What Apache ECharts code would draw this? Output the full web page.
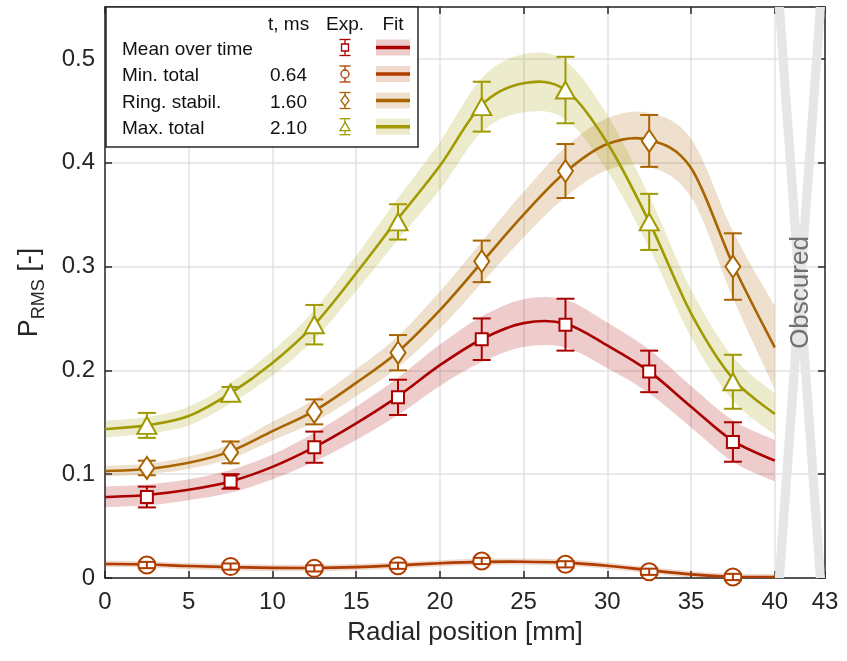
<!DOCTYPE html>
<html><head><meta charset="utf-8">
<script src="https://cdn.jsdelivr.net/npm/echarts@6/dist/echarts.min.js"></script>
<style>html,body{margin:0;padding:0;background:#fff}#c{width:847px;height:661px}</style>
</head><body><div id="c"></div>
<script>
// ---------------- data ----------------
const expX = [2.5, 7.5, 12.5, 17.5, 22.5, 27.5, 32.5, 37.5];
const meanY = [0.078, 0.093, 0.126, 0.174, 0.230, 0.244, 0.199, 0.131];
const meanErr = [0.010, 0.007, 0.015, 0.017, 0.020, 0.025, 0.020, 0.019];
const minY = [0.0125, 0.011, 0.0093, 0.0118, 0.0164, 0.0132, 0.006, 0.001];
const minErr = [0.003, 0.003, 0.003, 0.003, 0.003, 0.003, 0.003, 0.003];
const ringY = [0.106, 0.121, 0.160, 0.217, 0.305, 0.392, 0.421, 0.300];
const ringErr = [0.007, 0.0105, 0.012, 0.017, 0.020, 0.026, 0.025, 0.032];
const maxY = [0.147, 0.178, 0.244, 0.343, 0.454, 0.470, 0.343, 0.189];
const maxErr = [0.012, 0.006, 0.019, 0.017, 0.024, 0.032, 0.027, 0.026];

const fitX = [0, 2.5, 5, 7.5, 10, 12.5, 15, 17.5, 20, 22.5, 25, 27.5, 30, 32.5, 35, 37.5, 40];
const meanFit = [0.078, 0.080, 0.085, 0.093, 0.107, 0.126, 0.149, 0.175, 0.205, 0.230, 0.2455, 0.245, 0.224, 0.199, 0.165, 0.132, 0.113];
const minFit = [0.0135, 0.013, 0.0115, 0.0105, 0.0098, 0.0097, 0.0105, 0.0122, 0.0142, 0.0155, 0.0157, 0.0148, 0.0118, 0.0075, 0.0035, 0.0012, 0.0008];
const ringFit = [0.103, 0.105, 0.111, 0.122, 0.1415, 0.161, 0.188, 0.218, 0.258, 0.304, 0.350, 0.391, 0.418, 0.422, 0.395, 0.302, 0.222];
const maxFit = [0.1435, 0.147, 0.156, 0.178, 0.207, 0.244, 0.2935, 0.346, 0.397, 0.4557, 0.4766, 0.470, 0.419, 0.343, 0.255, 0.192, 0.158];

const meanBand = [0.010, 0.010, 0.010, 0.011, 0.012, 0.014, 0.016, 0.018, 0.020, 0.022, 0.023, 0.023, 0.022, 0.021, 0.020, 0.020, 0.020];
const minBand = [0.003, 0.003, 0.003, 0.003, 0.003, 0.003, 0.003, 0.003, 0.003, 0.003, 0.003, 0.003, 0.003, 0.003, 0.003, 0.003, 0.003];
const ringBand = [0.005, 0.005, 0.006, 0.007, 0.009, 0.011, 0.013, 0.015, 0.018, 0.020, 0.022, 0.024, 0.025, 0.026, 0.028, 0.032, 0.040];
const maxBand = [0.008, 0.008, 0.009, 0.010, 0.012, 0.014, 0.017, 0.020, 0.023, 0.026, 0.028, 0.028, 0.027, 0.025, 0.023, 0.021, 0.020];

const seriesNames = ['Mean over time', 'Min. total', 'Ring. stabil.', 'Max. total'];
const seriesTimes = ['', '0.64', '1.60', '2.10'];
const legendHeader = ['t, ms', 'Exp.', 'Fit'];
const obscuredRange = [40, 43];
const obscuredLabel = 'Obscured';
const xName = 'Radial position [mm]';
const yMin = 0, yMax = 0.55, yStep = 0.1;
const xMin = 0, xMax = 43, xStep = 5;

// ---------------- style ----------------
const colors = ['#aa0000', '#b03c00', '#a86400', '#a09a00'];
const bandColors = ['rgba(170,0,0,0.2)', 'rgba(176,60,0,0.2)', 'rgba(168,100,0,0.2)', 'rgba(160,154,0,0.2)'];
const symbols = ['rect', 'circle', 'diamond', 'triangle'];
const symbolSizes = [12, 17, [15, 22], [19, 17]];
const FONT = "'Liberation Sans', Arial, sans-serif";
const AX = '#262626';

const groups = [
  {y: meanY, err: meanErr, fit: meanFit, band: meanBand},
  {y: minY, err: minErr, fit: minFit, band: minBand},
  {y: ringY, err: ringErr, fit: ringFit, band: ringBand},
  {y: maxY, err: maxErr, fit: maxFit, band: maxBand}
];

function spline(pts) {
  let d = 'M' + pts[0][0] + ',' + pts[0][1];
  for (let i = 0; i < pts.length - 1; i++) {
    const p0 = pts[i - 1] || pts[i], p1 = pts[i], p2 = pts[i + 1], p3 = pts[i + 2] || pts[i + 1];
    const c1 = [p1[0] + (p2[0] - p0[0]) / 6, p1[1] + (p2[1] - p0[1]) / 6];
    const c2 = [p2[0] - (p3[0] - p1[0]) / 6, p2[1] - (p3[1] - p1[1]) / 6];
    d += ' C' + c1[0] + ',' + c1[1] + ' ' + c2[0] + ',' + c2[1] + ' ' + p2[0] + ',' + p2[1];
  }
  return d;
}

const series = [];

// obscured region
series.push({
  type: 'custom', silent: true, z: 1, clip: true,
  data: [obscuredRange],
  encode: {x: [0, 1]},
  renderItem: (params, api) => {
    const a = api.value(0), b = api.value(1);
    const w = 0.55;
    const P = (x, y) => api.coord([x, y]);
    const c = P((a + b) / 2, (yMin + yMax) / 2);
    return {type: 'group', children: [
      {type: 'polygon', shape: {points: [P(a, yMax), P(a + w, yMax), P(b, yMin), P(b - w, yMin)]}, style: {fill: '#e6e6e6'}},
      {type: 'polygon', shape: {points: [P(b - w, yMax), P(b, yMax), P(a + w, yMin), P(a, yMin)]}, style: {fill: '#e6e6e6'}},
      {type: 'text', x: c[0] + 1, y: c[1], rotation: Math.PI / 2,
        style: {text: obscuredLabel, font: '26px ' + FONT, fill: '#707070', align: 'center', verticalAlign: 'middle'}}
    ]};
  }
});

groups.forEach((g, i) => {
  // confidence band
  series.push({
    type: 'custom', silent: true, z: 2, clip: true,
    data: fitX.map((x, k) => [x, g.fit[k]]),
    encode: {x: 0, y: 1},
    renderItem: (params, api) => {
      if (params.dataIndex !== 0) return null;
      const up = fitX.map((x, k) => api.coord([x, g.fit[k] + g.band[k]]));
      const lo = fitX.map((x, k) => api.coord([x, g.fit[k] - g.band[k]])).reverse();
      const d = spline(up) + ' L' + spline(lo).slice(1) + ' Z';
      return {type: 'path', shape: {pathData: d}, style: {fill: bandColors[i]}};
    }
  });
});
groups.forEach((g, i) => {
  // fit line
  series.push({
    type: 'custom', silent: true, z: 3, clip: true,
    data: fitX.map((x, k) => [x, g.fit[k]]),
    encode: {x: 0, y: 1},
    renderItem: (params, api) => {
      if (params.dataIndex !== 0) return null;
      const pts = fitX.map((x, k) => api.coord([x, g.fit[k]]));
      return {type: 'path', shape: {pathData: spline(pts)}, style: {fill: 'none', stroke: colors[i], lineWidth: 2.6}};
    }
  });
});
groups.forEach((g, i) => {
  // error bars
  series.push({
    type: 'custom', silent: true, z: i === 1 ? 6 : 4,
    data: expX.map((x, k) => [x, g.y[k], g.err[k]]),
    encode: {x: 0, y: 1},
    renderItem: (params, api) => {
      const x = api.value(0), y = api.value(1), e = api.value(2);
      const t = api.coord([x, y + e]), b = api.coord([x, y - e]);
      const hw = 9;
      const st = {stroke: colors[i], lineWidth: 2};
      return {type: 'group', children: [
        {type: 'line', shape: {x1: t[0], y1: t[1], x2: b[0], y2: b[1]}, style: st},
        {type: 'line', shape: {x1: t[0] - hw, y1: t[1], x2: t[0] + hw, y2: t[1]}, style: st},
        {type: 'line', shape: {x1: b[0] - hw, y1: b[1], x2: b[0] + hw, y2: b[1]}, style: st}
      ]};
    }
  });
  // markers
  series.push({
    type: 'scatter', z: 5, silent: true,
    data: expX.map((x, k) => [x, g.y[k]]),
    symbol: symbols[i], symbolSize: symbolSizes[i],
    itemStyle: {color: '#ffffff', borderColor: colors[i], borderWidth: 2, opacity: 1}
  });
});

// ---------------- legend (graphic) ----------------
const L = {left: 106, top: 7, w: 312, h: 140};
const rowY = [47.5, 74, 100.5, 126.7];
const graphics = [];
graphics.push({type: 'rect', shape: {x: L.left, y: L.top, width: L.w, height: L.h},
  style: {fill: '#fff', stroke: AX, lineWidth: 1.5}, z: 100});
const txt = (s, x, y, align) => ({type: 'text', x: x, y: y, z: 101,
  style: {text: s, font: '19px ' + FONT, fill: '#111', align: align, verticalAlign: 'middle'}});
graphics.push(txt(legendHeader[0], 268, 25, 'left'));
graphics.push(txt(legendHeader[1], 345, 25, 'center'));
graphics.push(txt(legendHeader[2], 393, 25, 'center'));
seriesNames.forEach((n, i) => {
  const y = rowY[i];
  graphics.push(txt(n, 122, y + 2, 'left'));
  if (seriesTimes[i]) graphics.push(txt(seriesTimes[i], 270, y + 2, 'left'));
  const cx = 345, c = colors[i];
  const st = {stroke: c, lineWidth: 1.3, fill: 'none'};
  graphics.push({type: 'line', z: 101, shape: {x1: cx, y1: y - 8, x2: cx, y2: y + 8}, style: st});
  graphics.push({type: 'line', z: 101, shape: {x1: cx - 5.5, y1: y - 8, x2: cx + 5.5, y2: y - 8}, style: st});
  graphics.push({type: 'line', z: 101, shape: {x1: cx - 5.5, y1: y + 8, x2: cx + 5.5, y2: y + 8}, style: st});
  const ms = {stroke: c, lineWidth: 1.3, fill: '#fff'};
  let m;
  if (i === 0) m = {type: 'rect', shape: {x: cx - 3.5, y: y - 3.5, width: 7, height: 7}, style: ms};
  else if (i === 1) m = {type: 'circle', shape: {cx: cx, cy: y, r: 4}, style: ms};
  else if (i === 2) m = {type: 'polygon', shape: {points: [[cx, y - 5.5], [cx + 4, y], [cx, y + 5.5], [cx - 4, y]]}, style: ms};
  else m = {type: 'polygon', shape: {points: [[cx, y - 4.5], [cx + 5, y + 4], [cx - 5, y + 4]]}, style: ms};
  m.z = 102;
  graphics.push(m);
  graphics.push({type: 'rect', z: 101, shape: {x: 376, y: y - 8, width: 34, height: 16}, style: {fill: bandColors[i]}});
  graphics.push({type: 'line', z: 102, shape: {x1: 376, y1: y, x2: 410, y2: y}, style: {stroke: c, lineWidth: 3.5}});
});

// ---------------- axes ----------------
const axisLine = {show: true, onZero: false, lineStyle: {color: AX, width: 1.5}};
const axisTick = {show: true, inside: true, length: 7, lineStyle: {color: AX, width: 1.5}};
const grid = {left: 105, right: 22, top: 7, bottom: 83, containLabel: false};

const option = {
  animation: false,
  backgroundColor: '#fff',
  grid: grid,
  xAxis: [
    {type: 'value', min: xMin, max: xMax, interval: xStep, position: 'bottom',
      axisLine: axisLine, axisTick: axisTick,
      axisLabel: {fontSize: 24, color: AX, fontFamily: FONT, margin: 12},
      splitLine: {show: true, lineStyle: {color: '#e2e2e2', width: 1.5}},
      name: xName, nameLocation: 'middle', nameGap: 42,
      nameTextStyle: {fontSize: 26, color: AX, fontFamily: FONT}},
    {type: 'value', min: xMin, max: xMax, interval: xStep, position: 'top',
      axisLine: axisLine, axisTick: axisTick, axisLabel: {show: false}, splitLine: {show: false}}
  ],
  yAxis: [
    {type: 'value', min: yMin, max: yMax, interval: yStep, position: 'left',
      axisLine: axisLine, axisTick: axisTick,
      axisLabel: {fontSize: 24, color: AX, fontFamily: FONT, margin: 10, showMaxLabel: false},
      splitLine: {show: true, lineStyle: {color: '#e2e2e2', width: 1.5}},
      name: '{a|P}{b|RMS}{a| [-]}', nameLocation: 'middle', nameGap: 57, nameRotate: 90,
      nameTextStyle: {color: AX, fontFamily: FONT, rich: {
        a: {fontSize: 27, color: AX, fontFamily: FONT, lineHeight: 36, verticalAlign: 'middle'},
        b: {fontSize: 18, color: AX, fontFamily: FONT, verticalAlign: 'bottom'}
      }}},
    {type: 'value', min: yMin, max: yMax, interval: yStep, position: 'right',
      axisLine: axisLine, axisTick: axisTick, axisLabel: {show: false}, splitLine: {show: false}}
  ],
  series: series,
  graphic: graphics
};

const chart = echarts.init(document.getElementById('c'), null, {renderer: 'canvas'});
chart.setOption(option);
</script>
</body></html>
